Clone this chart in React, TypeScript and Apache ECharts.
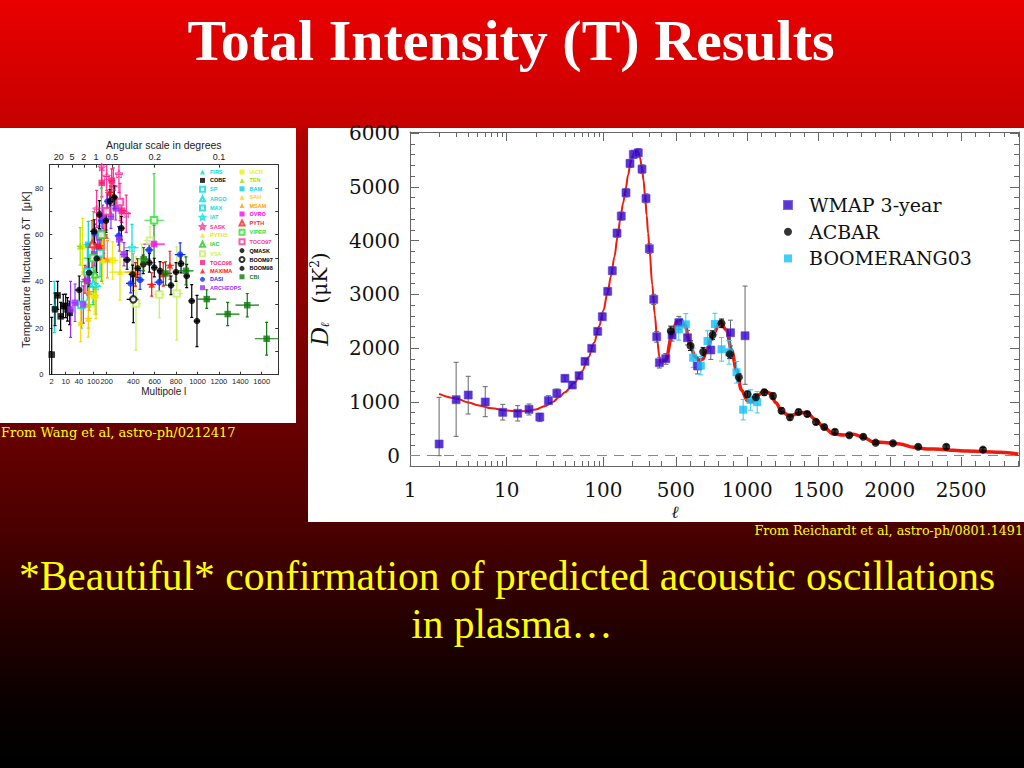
import React, { useEffect, useRef } from "react";
import * as echarts from "echarts";

// ================= MAIN CHART (Reichardt et al.) =================
// x axis: logarithmic up to l = 400, linear above
const LOG_END_L = 400;
const LIN_SLOPE = 0.0014747; // decades per multipole in the linear part
const X_MAX_L = 2906;
const tx = (l: number) =>
  l <= LOG_END_L ? Math.log10(l) : Math.log10(LOG_END_L) + (l - LOG_END_L) * LIN_SLOPE;

const X_LABELS = [1, 10, 100, 500, 1000, 1500, 2000, 2500];
const X_MINOR = [2, 3, 4, 5, 6, 7, 8, 9, 20, 30, 40, 50, 60, 70, 80, 90, 200, 300, 400, 600, 700, 800, 900,
  1100, 1200, 1300, 1400, 1600, 1700, 1800, 1900, 2100, 2200, 2300, 2400, 2600, 2700, 2800, 2900];
const Y_LABELS = [0, 1000, 2000, 3000, 4000, 5000, 6000];
const Y_MINOR = [200, 400, 600, 800, 1200, 1400, 1600, 1800, 2200, 2400, 2600, 2800, 3200, 3400, 3600, 3800,
  4200, 4400, 4600, 4800, 5200, 5400, 5600, 5800];
const Y_MIN = -192;
const Y_MAX = 6019;

// WMAP 3-year: [l, D, low, high]
const WMAP = [
  [2, 217, 0, 1085], [3, 1041, 360, 1736], [4, 1128, 775, 1476], [6, 998, 725, 1284], [9.1, 806, 663, 955],
  [13, 788, 645, 930], [17, 862, 757, 961], [22, 719, 633, 788], [27, 1023, 955, 1115], [33, 1160, 1080, 1240],
  [40, 1438, 1380, 1500], [47.7, 1314, 1260, 1370], [56, 1487, 1430, 1540], [64.5, 1754, 1700, 1810],
  [75.7, 1996, 1940, 2050], [87.3, 2312, 2250, 2370], [97.4, 2584, 2520, 2650], [110.8, 3056, 2990, 3120],
  [123.6, 3439, 3370, 3510], [138.2, 4139, 4060, 4210], [153, 4455, 4380, 4530], [171.3, 4889, 4810, 4970],
  [188.4, 5435, 5360, 5510], [203.9, 5602, 5530, 5680], [229.5, 5632, 5550, 5710], [250.7, 5329, 5250, 5410],
  [275.9, 4784, 4700, 4870], [298.5, 3848, 3760, 3940], [331.5, 2907, 2810, 3000], [356, 2212, 2110, 2310],
  [379, 1729, 1630, 1830], [429.5, 1803, 1700, 1900], [473.6, 2243, 2130, 2360], [520.6, 2472, 2350, 2590],
  [581.6, 2193, 2060, 2330], [651.8, 1667, 1520, 1810], [745, 1965, 1790, 2140], [883, 2286, 2040, 2520],
  [985, 2230, 1327, 3154],
];
// ACBAR: [l, D, err]
const ACBAR = [
  [464.5, 2318, 90], [602.7, 2045, 90], [691, 1933, 80], [757, 2243, 80], [820, 2461, 80], [878, 1885, 80],
  [941.5, 1457, 70], [1002.5, 1141, 60], [1061, 1085, 60], [1120, 1178, 55], [1181, 1110, 55], [1241, 836, 50],
  [1300, 714, 50], [1360, 812, 50], [1421, 775, 45], [1482, 626, 45], [1540, 533, 40], [1615, 446, 40],
  [1716, 379, 35], [1814, 353, 35], [1901, 242, 30], [2022, 230, 30], [2199, 167, 30], [2396, 167, 35],
  [2653, 112, 40],
];
// BOOMERANG03: [l, D, err]
const BOOM03 = [
  [520.6, 2349, 200], [569.7, 2442, 200], [621, 1822, 180], [675, 1673, 170], [722, 2132, 190],
  [773.6, 2448, 200], [820, 1978, 220], [873, 1922, 220], [925, 1550, 200], [972, 855, 190],
  [1024, 1035, 190], [1070, 995, 200],
];
// best-fit model curve
const THEORY_LOW = [
  [2, 1150], [3, 1065], [4, 990], [5, 940], [7, 880], [10, 840], [13, 825], [16, 830], [20, 860], [25, 925],
  [30, 1000], [35, 1090], [40, 1180], [50, 1350], [60, 1570], [70, 1830], [80, 2100], [90, 2400], [100, 2700],
  [110, 3020], [120, 3340], [130, 3700], [140, 4070], [150, 4420], [160, 4700], [170, 4960], [180, 5220],
  [190, 5430], [200, 5570], [210, 5650], [220, 5680], [230, 5640], [240, 5530], [250, 5350], [260, 5120],
  [270, 4820], [280, 4470], [290, 4140], [300, 3820], [320, 3180], [340, 2620], [360, 2140], [380, 1830],
  [395, 1722], [400, 1720],
];
const THEORY_HIGH = [
  [400, 1720], [430, 1780], [470, 2212], [505, 2490], [532, 2535], [563, 2430], [598, 2090], [633, 1840],
  [668, 1775], [690, 1800], [715, 1965], [762, 2262], [810, 2490], [855, 2336], [890, 1965], [925, 1593],
  [960, 1221], [1002, 1022], [1035, 1010], [1077, 1128], [1120, 1208], [1160, 1160], [1202, 985], [1242, 818],
  [1300, 738], [1358, 788], [1417, 807], [1476, 677], [1534, 539], [1604, 403], [1675, 385], [1745, 398],
  [1815, 342], [1885, 255], [1979, 242], [2072, 217], [2166, 156], [2259, 125], [2352, 119], [2446, 100],
  [2540, 87], [2657, 74], [2773, 63], [2901, 32],
];

// ================= LEFT CHART (Wang et al.) =================
const LEFT_SCALE_L = [2, 10, 40, 100, 200, 400];
const LEFT_SCALE_S = [2.4, 16.4, 29.7, 44, 57.4, 84];
const LEFT_LIN = 0.107;
const LEFT_MAX_L = 1755;
const sL = (l: number) => {
  if (l <= LEFT_SCALE_L[0]) return (LEFT_SCALE_S[0] * l) / LEFT_SCALE_L[0];
  for (let i = 1; i < LEFT_SCALE_L.length; i++) {
    if (l <= LEFT_SCALE_L[i]) {
      const a = LEFT_SCALE_L[i - 1], b = LEFT_SCALE_L[i];
      return LEFT_SCALE_S[i - 1] + ((l - a) / (b - a)) * (LEFT_SCALE_S[i] - LEFT_SCALE_S[i - 1]);
    }
  }
  return LEFT_SCALE_S[LEFT_SCALE_S.length - 1] + (l - LEFT_SCALE_L[LEFT_SCALE_L.length - 1]) * LEFT_LIN;
};
const LEFT_X_LABELS = [2, 10, 40, 100, 200, 400, 600, 800, 1000, 1200, 1400, 1600];
const LEFT_ANGLES = [20, 5, 2, 1, 0.5, 0.2, 0.1];
const ANGLE_TO_L = 120;
const LEFT_Y_LABELS = [0, 20, 40, 60, 80];
const LEFT_Y_TICKS = [0, 10, 20, 30, 40, 50, 60, 70, 80, 90];

// points: [l, dT, dT error, l half-width]
const FIRS_PTS = [[3.5, 29, 11, 1.5]];
const COBE_PTS = [[2, 8.6, 16, 0], [3.9, 28, 7, 0.8], [5.4, 34, 6, 1], [7.1, 25, 6, 1], [8.6, 29.4, 5, 1.2],
  [10, 29.5, 5, 1.5], [14, 28, 5, 2], [19, 26.5, 5, 3]];
const SP_PTS = [[50, 30, 10, 15]];
const ARGO_PTS = [[100, 39, 8, 40]];
const MAX_PTS = [[75, 44, 12, 25], [150, 52, 10, 40]];
const IAT_PTS = [[390, 54.4, 10, 60], [120, 38, 12, 40]];
const SASK_PTS = [[163, 89, 7, 20], [200, 85, 6, 25], [250, 80.6, 8, 30], [292, 86, 8, 30], [125, 71, 8, 20], [347, 69, 8, 35]];
const PYTH5_PTS = [[55, 55, 12, 20], [170, 49, 10, 60], [300, 44, 12, 80]];
const IAC_PTS = [[113, 43, 8, 20]];
const VSA_PTS = [[556, 57.4, 6, 60], [425, 30.5, 20, 50], [643, 34.4, 10, 50], [806, 34.8, 20, 60], [480, 48, 8, 50]];
const TOCO98_PTS = [[163, 82.2, 6, 20], [238, 83.2, 5, 25], [313, 70.3, 5, 30], [130, 55, 6, 20]];
const MAXIMA_PTS = [[65, 40.9, 6, 15], [150, 55.2, 6, 25], [225, 78.1, 5, 25], [572, 38.7, 5, 40], [680, 43, 5, 40],
  [742, 46.9, 6, 40], [420, 43, 5, 40]];
const DASI_PTS = [[110, 60.5, 4, 20], [207, 74.3, 4, 25], [290, 59.5, 4, 30], [380, 39.1, 4, 35], [463, 40.6, 4, 40],
  [548, 53.5, 4, 40], [643, 39.7, 4, 45], [838, 51.5, 5, 50], [160, 66, 4, 20]];
const ARCHEOPS_PTS = [[21, 28, 12, 6], [31, 30.8, 8, 8], [58, 30.1, 8, 12], [75, 40.2, 6, 15], [107, 51.6, 5, 15],
  [142, 58.8, 5, 20], [170, 67.7, 5, 20], [232, 67.7, 5, 25], [268, 71.3, 5, 25], [295, 58, 5, 25], [330, 51.6, 5, 30]];
const IACB_PTS = [[107, 33.7, 8, 20], [245, 49, 8, 40]];
const TEN_PTS = [[45, 55, 8, 10], [80, 30, 10, 15]];
const BAM_PTS = [[79, 55.7, 10, 20]];
const SAH_PTS = [[47, 22.2, 8, 10], [79, 24.1, 8, 15], [120, 34, 10, 20]];
const MSAM_PTS = [[83, 35.6, 8, 20], [205, 49.5, 8, 40], [400, 44, 8, 60]];
const OVRO_PTS = [[594, 56, 8, 100]];
const PYTH_PTS = [[95, 56, 10, 20], [180, 60, 10, 30]];
const VIPER_PTS = [[594, 66.2, 20, 90], [160, 60, 20, 50], [100, 50, 20, 40]];
const TOCO97_PTS = [[200, 70, 8, 25], [300, 74, 8, 30]];
const QMASK_PTS = [[41, 36.3, 6, 10], [82, 43.7, 6, 15], [125, 49.8, 6, 20], [145, 68.6, 6, 20], [195, 66, 5, 20],
  [257, 76, 5, 25], [310, 62.8, 5, 25]];
const BOOM97_PTS = [[400, 32.3, 10, 50]];
const BOOM98_PTS = [[107, 61.4, 5, 20], [225, 74.3, 5, 25], [353, 49.2, 4, 30], [395, 43, 4, 30], [441, 45.6, 4, 30],
  [493, 47.3, 4, 30], [550, 48, 4, 30], [596, 45.9, 4, 30], [650, 44.5, 4, 30], [752, 38.3, 4, 30], [799, 44, 4, 30],
  [846, 47.6, 4, 30], [899, 42.3, 5, 30], [946, 31.6, 7, 30], [995, 23, 11, 30]];
const CBI_PTS = [[497, 49.5, 5, 50], [702, 43.4, 5, 60], [892, 44.5, 6, 70], [1086, 32.4, 4, 90], [1282, 26, 5, 110],
  [1465, 29.8, 5, 110], [1646, 15.4, 7, 110]];

const LEFT_NAMES = ["FIRS", "COBE", "SP", "ARGO", "MAX", "IAT", "SASK", "PYTH5", "IAC", "VSA", "TOCO98", "MAXIMA",
  "DASI", "ARCHEOPS", "IACB", "TEN", "BAM", "SAH", "MSAM", "OVRO", "PYTH", "VIPER", "TOCO97", "QMASK", "BOOM97",
  "BOOM98", "CBI"];
const LEFT_POINTS = [FIRS_PTS, COBE_PTS, SP_PTS, ARGO_PTS, MAX_PTS, IAT_PTS, SASK_PTS, PYTH5_PTS, IAC_PTS, VSA_PTS,
  TOCO98_PTS, MAXIMA_PTS, DASI_PTS, ARCHEOPS_PTS, IACB_PTS, TEN_PTS, BAM_PTS, SAH_PTS, MSAM_PTS, OVRO_PTS, PYTH_PTS,
  VIPER_PTS, TOCO97_PTS, QMASK_PTS, BOOM97_PTS, BOOM98_PTS, CBI_PTS];
const LEFT_COLORS = ["#00dede", "#000000", "#00dede", "#00dede", "#00dede", "#00dede", "#ff2a9a", "#e8e800", "#22cc22",
  "#c8f060", "#ff1a75", "#ff1010", "#1030ff", "#9a30ff", "#f0f000", "#a0e000", "#00d0e8", "#ffd400", "#ffa000",
  "#ff00ff", "#ff2020", "#33dd33", "#ff3399", "#000000", "#000000", "#000000", "#0b7a0b"];
const STAR = "path://M0,-10L2.9,-4L9.5,-3.1L4.7,1.5L5.9,8.1L0,5L-5.9,8.1L-4.7,1.5L-9.5,-3.1L-2.9,-4Z";
const LEFT_SYMBOLS = ["triangle", "rect", "emptyRect", "emptyTriangle", "emptyRect", STAR, STAR, "triangle",
  "emptyTriangle", "emptyRect", "rect", "triangle", "circle", "rect", "rect", "triangle", "rect", "triangle",
  "triangle", "rect", "emptyTriangle", "emptyRect", "emptyRect", "circle", "emptyCircle", "circle", "rect"];

const SERIF = "DejaVu Serif";

function nearestLabel(vals: number[], f: (v: number) => number, v: number) {
  let best = vals[0];
  let bd = Infinity;
  for (const x of vals) {
    const d = Math.abs(f(x) - v);
    if (d < bd) { bd = d; best = x; }
  }
  return String(best);
}

function errRender(color: string, cap: number) {
  return (params: any, api: any) => {
    const x = api.value(0);
    const a = api.coord([x, api.value(2)]);
    const b = api.coord([x, api.value(3)]);
    const st = { stroke: color, lineWidth: 1 };
    return {
      type: "group",
      children: [
        { type: "line", shape: { x1: a[0], y1: a[1], x2: b[0], y2: b[1] }, style: st },
        { type: "line", shape: { x1: a[0] - cap, y1: a[1], x2: a[0] + cap, y2: a[1] }, style: st },
        { type: "line", shape: { x1: b[0] - cap, y1: b[1], x2: b[0] + cap, y2: b[1] }, style: st },
      ],
    };
  };
}

function leftErrRender(params: any, api: any) {
  const c = LEFT_COLORS[api.value(6)];
  const p = api.coord([api.value(0), api.value(1)]);
  const lo = api.coord([api.value(0), api.value(2)]);
  const hi = api.coord([api.value(0), api.value(3)]);
  const l0 = api.coord([api.value(4), api.value(1)]);
  const l1 = api.coord([api.value(5), api.value(1)]);
  const st = { stroke: c, lineWidth: 1.2 };
  return {
    type: "group",
    children: [
      { type: "line", shape: { x1: p[0], y1: lo[1], x2: p[0], y2: hi[1] }, style: st },
      { type: "line", shape: { x1: p[0] - 1.5, y1: lo[1], x2: p[0] + 1.5, y2: lo[1] }, style: st },
      { type: "line", shape: { x1: p[0] - 1.5, y1: hi[1], x2: p[0] + 1.5, y2: hi[1] }, style: st },
      { type: "line", shape: { x1: l0[0], y1: p[1], x2: l1[0], y2: p[1] }, style: st },
    ],
  };
}

export default function App() {
  const ref = useRef<HTMLDivElement>(null);
  useEffect(() => {
    if (!ref.current) return;
    const chart = echarts.init(ref.current, undefined, { renderer: "svg" });
    const AX = "#666";
    const xMax = tx(X_MAX_L);

    const mainX = (pos: string, vals: number[], len: number, line: boolean, label: boolean, extra: any = {}) => ({
      type: "value", gridIndex: 0, position: pos, min: 0, max: xMax,
      axisLine: { show: line, onZero: false, lineStyle: { color: AX, width: 1 } },
      axisTick: { show: true, inside: true, length: len, customValues: vals.map(tx), lineStyle: { color: AX } },
      axisLabel: label
        ? { show: true, customValues: vals.map(tx), formatter: (v: number) => nearestLabel(X_LABELS, tx, v),
            margin: 14, fontFamily: SERIF, fontSize: 20, color: "#111" }
        : { show: false },
      splitLine: { show: false },
      ...extra,
    });
    const mainY = (pos: string, vals: number[], len: number, line: boolean, label: boolean, extra: any = {}) => ({
      type: "value", gridIndex: 0, position: pos, min: Y_MIN, max: Y_MAX,
      axisLine: { show: line, onZero: false, lineStyle: { color: AX, width: 1 } },
      axisTick: { show: true, inside: true, length: len, customValues: vals, lineStyle: { color: AX } },
      axisLabel: label
        ? { show: true, customValues: vals, margin: 10, formatter: (v: number) => String(Math.round(v)),
            fontFamily: SERIF, fontSize: 20, color: "#111" }
        : { show: false },
      splitLine: { show: false },
      ...extra,
    });

    const sMax = sL(LEFT_MAX_L);
    const LAX = "#333";
    const smallFont = { fontFamily: "Liberation Sans", fontSize: 7.5, color: "#222" };

    const leftSeries = LEFT_NAMES.map((name, i) => {
      const sym = LEFT_SYMBOLS[i];
      const hollowStar = sym === STAR;
      return {
        type: "scatter", name, xAxisIndex: 4, yAxisIndex: 4, symbol: sym, symbolSize: hollowStar ? 8 : 6.5,
        data: LEFT_POINTS[i].map((p) => [sL(p[0]), p[1]]),
        itemStyle: hollowStar
          ? { color: "rgba(255,255,255,0)", borderColor: LEFT_COLORS[i], borderWidth: 1 }
          : { color: LEFT_COLORS[i] },
        z: 4, silent: true,
      };
    });
    const leftErrData: number[][] = [];
    LEFT_POINTS.forEach((pts, i) => {
      pts.forEach((p) => {
        leftErrData.push([sL(p[0]), p[1], p[1] - p[2], p[1] + p[2], sL(Math.max(p[0] - p[3], 1.6)), sL(p[0] + p[3]), i]);
      });
    });

    const legendCol = (names: string[], left: number) => ({
      orient: "vertical", left, top: 169, itemWidth: 5, itemHeight: 5, itemGap: 2.4, padding: 0,
      selectedMode: false,
      textStyle: { fontSize: 5.5, lineHeight: 5, fontFamily: "Liberation Sans", fontWeight: "bold" },
      data: names.map((n) => ({ name: n, textStyle: { color: LEFT_COLORS[LEFT_NAMES.indexOf(n)] } })),
    });

    const option: any = {
      animation: false,
      backgroundColor: "transparent",
      grid: [
        { left: 410, top: 132, width: 609, height: 334, containLabel: false, outerBoundsMode: "none" },
        { left: 49.3, top: 164.7, width: 229, height: 210, containLabel: false, outerBoundsMode: "none" },
      ],
      legend: [
        {
          orient: "vertical", left: 783, top: 195.5, itemWidth: 8, itemHeight: 8, itemGap: 7.7, padding: 0,
          selectedMode: false,
          textStyle: { fontFamily: SERIF, fontSize: 19, lineHeight: 19, color: "#111" },
          formatter: (n: string) => "  " + n,
          data: [{ name: "WMAP 3-year", icon: "rect" }, { name: "ACBAR", icon: "circle" }, { name: "BOOMERANG03", icon: "rect" }],
        },
        legendCol(LEFT_NAMES.slice(0, 14), 199),
        legendCol(LEFT_NAMES.slice(14), 238.5),
      ],
      xAxis: [
        mainX("bottom", X_LABELS, 9, true, true, {
          name: "ℓ", nameLocation: "middle", nameGap: 37,
          nameTextStyle: { fontFamily: SERIF, fontStyle: "italic", fontSize: 17, lineHeight: 17, color: "#111", padding: [0, 79, 0, 0] },
        }),
        mainX("bottom", X_MINOR, 5, false, false),
        mainX("top", X_LABELS, 9, true, false),
        mainX("top", X_MINOR, 5, false, false),
        {
          type: "value", gridIndex: 1, position: "bottom", min: 0, max: sMax,
          axisLine: { show: true, onZero: false, lineStyle: { color: LAX } },
          axisTick: { show: true, inside: true, length: 3, customValues: LEFT_X_LABELS.map(sL), lineStyle: { color: LAX } },
          axisLabel: { show: true, customValues: LEFT_X_LABELS.map(sL), margin: 3,
            formatter: (v: number) => nearestLabel(LEFT_X_LABELS, sL, v), ...smallFont },
          splitLine: { show: false },
          name: "Multipole l", nameLocation: "middle", nameGap: 12,
          nameTextStyle: { fontFamily: "Liberation Sans", fontSize: 10, color: "#222" },
        },
        {
          type: "value", gridIndex: 1, position: "top", min: 0, max: sMax,
          axisLine: { show: true, onZero: false, lineStyle: { color: LAX } },
          axisTick: { show: true, inside: true, length: 3, customValues: LEFT_ANGLES.map((a) => sL(ANGLE_TO_L / a)), lineStyle: { color: LAX } },
          axisLabel: { show: true, customValues: LEFT_ANGLES.map((a) => sL(ANGLE_TO_L / a)), margin: 3,
            formatter: (v: number) => nearestLabel(LEFT_ANGLES, (a) => sL(ANGLE_TO_L / a), v),
            fontFamily: "Liberation Sans", fontSize: 9, color: "#222" },
          splitLine: { show: false },
          name: "Angular scale in degrees", nameLocation: "middle", nameGap: 14,
          nameTextStyle: { fontFamily: "Liberation Sans", fontSize: 10.5, color: "#222" },
        },
      ],
      yAxis: [
        mainY("left", Y_LABELS, 9, true, true, {
          name: "{d|D}{s|ℓ}   (μK{p|2})", nameLocation: "middle", nameGap: 78,
          nameTextStyle: {
            fontFamily: SERIF, fontSize: 20, color: "#111",
            rich: {
              d: { fontFamily: "Liberation Serif", fontStyle: "italic", fontSize: 25, color: "#111" },
              s: { fontFamily: SERIF, fontStyle: "italic", fontSize: 12, color: "#111", padding: [10, 0, 0, 0] },
              p: { fontFamily: SERIF, fontSize: 12, color: "#111", padding: [0, 0, 10, 0] },
            },
          },
        }),
        mainY("left", Y_MINOR, 5, false, false),
        mainY("right", Y_LABELS, 9, true, false),
        mainY("right", Y_MINOR, 5, false, false),
        {
          type: "value", gridIndex: 1, position: "left", min: 0, max: 90,
          axisLine: { show: true, onZero: false, lineStyle: { color: LAX } },
          axisTick: { show: true, inside: true, length: 3, customValues: LEFT_Y_TICKS, lineStyle: { color: LAX } },
          axisLabel: { show: true, customValues: LEFT_Y_LABELS, margin: 6, ...smallFont },
          splitLine: { show: false },
          name: "Temperature fluctuation δT  [μK]", nameLocation: "middle", nameGap: 16,
          nameTextStyle: { fontFamily: "Liberation Sans", fontSize: 11, color: "#222" },
        },
        {
          type: "value", gridIndex: 1, position: "right", min: 0, max: 90,
          axisLine: { show: true, onZero: false, lineStyle: { color: LAX } },
          axisTick: { show: true, inside: true, length: 3, customValues: LEFT_Y_TICKS, lineStyle: { color: LAX } },
          axisLabel: { show: false },
          splitLine: { show: false },
        },
      ],
      series: [
        {
          type: "line", name: "model-low", xAxisIndex: 0, yAxisIndex: 0, symbol: "none", showSymbol: false,
          smooth: 0.35, smoothMonotone: "x", silent: true, z: 2,
          lineStyle: { color: "#ee1a0c", width: 2 },
          data: THEORY_LOW.map((p) => [tx(p[0]), p[1]]),
          markLine: {
            silent: true, symbol: ["none", "none"], label: { show: false },
            lineStyle: { type: [10, 7], color: "#888", width: 1 },
            data: [{ yAxis: 0 }],
          },
        },
        {
          type: "line", name: "model-high", xAxisIndex: 0, yAxisIndex: 0, symbol: "none", showSymbol: false,
          smooth: 0.35, smoothMonotone: "x", silent: true, z: 2,
          lineStyle: { color: "#ee1a0c", width: 3.5 },
          data: THEORY_HIGH.map((p) => [tx(p[0]), p[1]]),
        },
        {
          type: "custom", name: "wmap-err", xAxisIndex: 0, yAxisIndex: 0, z: 3, silent: true, clip: true,
          encode: { x: 0, y: 1 }, renderItem: errRender("#666", 2.5),
          data: WMAP.map((p) => [tx(p[0]), p[1], p[2], p[3]]),
        },
        {
          type: "custom", name: "acbar-err", xAxisIndex: 0, yAxisIndex: 0, z: 3, silent: true, clip: true,
          encode: { x: 0, y: 1 }, renderItem: errRender("#111", 2.5),
          data: ACBAR.map((p) => [tx(p[0]), p[1], p[1] - p[2], p[1] + p[2]]),
        },
        {
          type: "custom", name: "boom-err", xAxisIndex: 0, yAxisIndex: 0, z: 3, silent: true, clip: true,
          encode: { x: 0, y: 1 }, renderItem: errRender("#3cc8f4", 2.5),
          data: BOOM03.map((p) => [tx(p[0]), p[1], p[1] - p[2], p[1] + p[2]]),
        },
        {
          type: "scatter", name: "WMAP 3-year", xAxisIndex: 0, yAxisIndex: 0, symbol: "rect", symbolSize: 8, z: 4,
          silent: true, itemStyle: { color: "#3300cc", borderColor: "#5a40dc", borderWidth: 0.8 },
          data: WMAP.map((p) => [tx(p[0]), p[1]]),
        },
        {
          type: "scatter", name: "ACBAR", xAxisIndex: 0, yAxisIndex: 0, symbol: "circle", symbolSize: 8, z: 5,
          silent: true, itemStyle: { color: "#000" },
          data: ACBAR.map((p) => [tx(p[0]), p[1]]),
        },
        {
          type: "scatter", name: "BOOMERANG03", xAxisIndex: 0, yAxisIndex: 0, symbol: "rect", symbolSize: 8, z: 4,
          silent: true, itemStyle: { color: "#10c0f8" },
          data: BOOM03.map((p) => [tx(p[0]), p[1]]),
        },
        {
          type: "custom", name: "left-err", xAxisIndex: 4, yAxisIndex: 4, z: 3, silent: true, clip: true,
          encode: { x: 0, y: 1 }, renderItem: leftErrRender, data: leftErrData,
        },
        ...leftSeries,
      ],
      graphic: {
        elements: [
          { type: "rect", z: -10, silent: true, shape: { x: 0, y: 128, width: 296, height: 295 }, style: { fill: "#fff" } },
          { type: "rect", z: -10, silent: true, shape: { x: 308, y: 128, width: 716, height: 394 }, style: { fill: "#fff" } },
          {
            type: "text", x: 511, y: 40, z: 10, silent: true,
            style: { text: "Total Intensity (T) Results", fill: "#ffffff", font: 'bold 58px "Liberation Serif"',
              textAlign: "center", textVerticalAlign: "middle" },
          },
          {
            type: "text", x: 1, y: 432, z: 10, silent: true,
            style: { text: "From Wang et al, astro-ph/0212417", fill: "#ffff00", font: '13px "DejaVu Serif"',
              textAlign: "left", textVerticalAlign: "middle" },
          },
          {
            type: "text", x: 1023, y: 530, z: 10, silent: true,
            style: { text: "From Reichardt et al, astro-ph/0801.1491", fill: "#ffff00", font: '12.7px "DejaVu Serif"',
              textAlign: "right", textVerticalAlign: "middle" },
          },
          {
            type: "text", x: 507, y: 576, z: 10, silent: true,
            style: { text: "*Beautiful* confirmation of predicted acoustic oscillations", fill: "#ffff00",
              font: '41.5px "Liberation Serif"', textAlign: "center", textVerticalAlign: "middle" },
          },
          {
            type: "text", x: 512, y: 624, z: 10, silent: true,
            style: { text: "in plasma…", fill: "#ffff00", font: '41.5px "Liberation Serif"',
              textAlign: "center", textVerticalAlign: "middle" },
          },
        ],
      },
    };
    chart.setOption(option);
    return () => chart.dispose();
  }, []);

  return (
    <div
      ref={ref}
      style={{
        position: "absolute", left: 0, top: 0, width: 1024, height: 768,
        background:
          "linear-gradient(to bottom, #ea0000 0px, #c60000 126px, #b20000 132px, #8c0000 300px, #680000 430px, #4a0000 530px, #260000 620px, #0a0000 700px, #000000 768px)",
      }}
    />
  );
}
